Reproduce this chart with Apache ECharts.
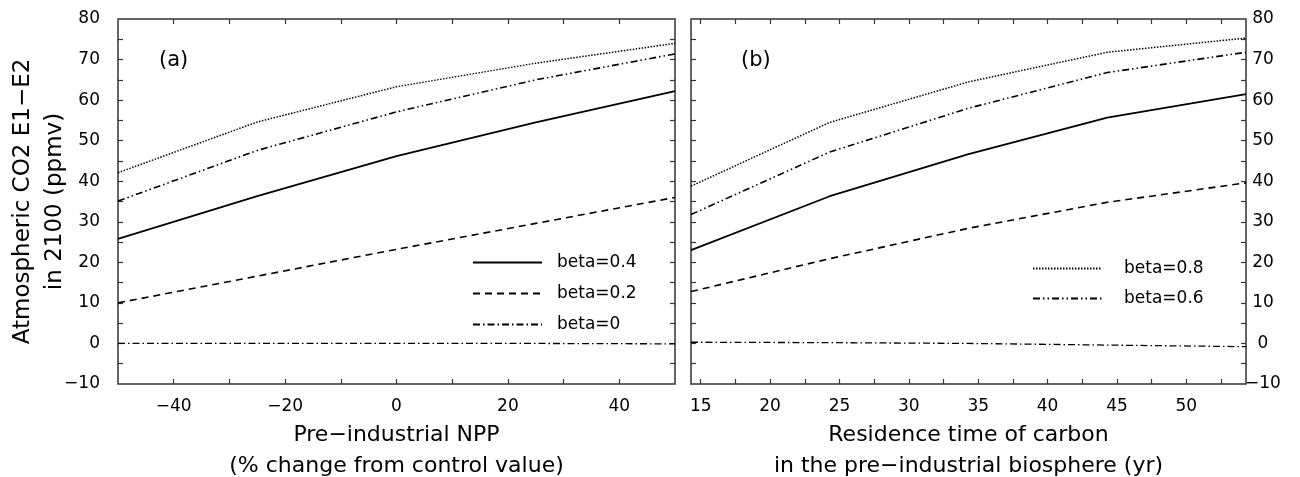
<!DOCTYPE html>
<html>
<head>
<meta charset="utf-8">
<script src="https://cdn.jsdelivr.net/npm/echarts@6/dist/echarts.min.js"></script>
<style>
html, body { margin: 0; background: #fff; }
#chart { width: 1300px; height: 477px; }
</style>
</head>
<body>
<div id="chart"></div>
<script>
// panel (a): pre-industrial NPP, panel (b): residence time
const nppX = [-50, -25, 0, 25, 50]
const residX = [14.3, 24.3, 34.3, 44.3, 54.3]

const nppBeta08 = [42.1, 54.6, 63.3, 69.1, 74.0]
const nppBeta06 = [35.1, 47.6, 57.1, 65.0, 71.4]
const nppBeta04 = [25.8, 36.3, 46.2, 54.5, 62.2]
const nppBeta02 = [10.0, 16.6, 23.2, 29.6, 36.0]
const nppBeta00 = [0, 0, 0, 0, -0.1]

const resBeta08 = [38.8, 54.5, 64.5, 71.8, 75.3]
const resBeta06 = [31.8, 47.2, 58.0, 66.8, 71.8]
const resBeta04 = [23.0, 36.3, 46.7, 55.7, 61.5]
const resBeta02 = [12.8, 20.9, 28.4, 34.8, 39.6]
const resBeta00 = [0.3, 0.2, 0.0, -0.4, -0.8]

const nppLabels = [-40, -20, 0, 20, 40]
const nppTicks = [-40, -30, -20, -10, 0, 10, 20, 30, 40]
const resLabels = [15, 20, 25, 30, 35, 40, 45, 50]
const resTicks = [15, 17.5, 20, 22.5, 25, 27.5, 30, 32.5, 35, 37.5, 40, 42.5, 45, 47.5, 50, 52.5]
const yLabels = [-10, 0, 10, 20, 30, 40, 50, 60, 70, 80]
const yTicks = [-5, 0, 5, 10, 15, 20, 25, 30, 35, 40, 45, 50, 55, 60, 65, 70, 75]

const font = '"DejaVu Sans", "Liberation Sans", Arial, sans-serif'
const minus = v => String(v).replace('-', '\u2212')

const styles = {
  'beta=0.8': { type: [1.5, 1.5], width: 1.5 },
  'beta=0.6': { type: [7, 3, 1.5, 3, 1.5, 3], width: 1.6 },
  'beta=0.4': { type: 'solid', width: 1.8 },
  'beta=0.2': { type: [7, 5], width: 1.6 },
  'beta=0': { type: [7, 3, 1.5, 3], width: 1.3 },
}

function line(name, xs, ys, idx) {
  return {
    type: 'line',
    name: name,
    xAxisIndex: idx,
    yAxisIndex: idx,
    symbol: 'none',
    symbolSize: 0,
    showSymbol: false,
    silent: true,
    animation: false,
    lineStyle: Object.assign({ color: '#000' }, styles[name]),
    itemStyle: { color: '#000' },
    data: xs.map((x, i) => [x, ys[i]]),
  }
}

function xAxis(grid, pos, min, max, labels, ticks, name) {
  return {
    type: 'value',
    gridIndex: grid,
    position: pos,
    min: min,
    max: max,
    name: name,
    nameLocation: 'middle',
    nameGap: 26,
    nameTextStyle: { color: '#000', fontSize: 22, fontFamily: font, lineHeight: 31 },
    axisLine: { show: false, onZero: false },
    splitLine: { show: false },
    axisTick: { show: true, inside: true, length: 5, customValues: ticks, lineStyle: { color: '#333', width: 1.2 } },
    axisLabel: { show: pos === 'bottom', customValues: labels, formatter: minus, color: '#000', fontSize: 17, fontFamily: font, margin: 14 },
  }
}

function yAxis(grid, pos, showLabel, name) {
  return {
    type: 'value',
    gridIndex: grid,
    position: pos,
    min: -10,
    max: 80,
    interval: 10,
    name: name,
    nameLocation: 'middle',
    nameGap: 47,
    nameMoveOverlap: false,
    nameTextStyle: { color: '#000', fontSize: 23, fontFamily: font, lineHeight: 32 },
    axisLine: { show: false, onZero: false },
    splitLine: { show: false },
    axisTick: { show: true, inside: true, length: 5, customValues: yTicks, lineStyle: { color: '#333', width: 1.2 } },
    axisLabel: {
      show: showLabel, customValues: yLabels, formatter: minus, color: '#000', fontSize: 17, fontFamily: font,
      margin: grid === 0 ? 18 : 17, align: grid === 0 ? 'right' : 'center',
    },
  }
}

const legendText = { color: '#000', fontSize: 17, fontFamily: font, lineHeight: 17 }

const chart = echarts.init(document.getElementById('chart'))
chart.setOption({
  backgroundColor: '#fff',
  animation: false,
  title: [
    { text: '(a)', left: 159, top: 50, padding: 0, textStyle: { fontSize: 21, fontWeight: 'normal', color: '#000', fontFamily: font } },
    { text: '(b)', left: 741, top: 50, padding: 0, textStyle: { fontSize: 21, fontWeight: 'normal', color: '#000', fontFamily: font } },
  ],
  grid: [
    { left: 118, top: 19, width: 557, height: 365, outerBoundsMode: 'none', show: true, borderColor: '#333', borderWidth: 1.5 },
    { left: 691, top: 19, width: 555, height: 365, outerBoundsMode: 'none', show: true, borderColor: '#333', borderWidth: 1.5 },
  ],
  legend: [
    {
      orient: 'vertical', left: 467, top: 249, itemWidth: 69, itemHeight: 14, itemGap: 14,
      selectedMode: false, data: ['beta=0.4', 'beta=0.2', 'beta=0'],
      itemStyle: { opacity: 0 },
      textStyle: Object.assign({ padding: [0, 0, 0, 10] }, legendText),
    },
    {
      orient: 'vertical', left: 1027, top: 255, itemWidth: 69, itemHeight: 14, itemGap: 13,
      selectedMode: false, data: ['beta=0.8', 'beta=0.6'],
      itemStyle: { opacity: 0 },
      textStyle: Object.assign({ padding: [0, 0, 0, 17] }, legendText),
    },
  ],
  xAxis: [
    xAxis(0, 'bottom', -50, 50, nppLabels, nppTicks, 'Pre\u2212industrial NPP\n(% change from control value)'),
    xAxis(1, 'bottom', 14.3, 54.3, resLabels, resTicks, 'Residence time of carbon\nin the pre\u2212industrial biosphere (yr)'),
    xAxis(0, 'top', -50, 50, nppLabels, nppTicks, ''),
    xAxis(1, 'top', 14.3, 54.3, resLabels, resTicks, ''),
  ],
  yAxis: [
    yAxis(0, 'left', true, 'Atmospheric CO2 E1\u2212E2\nin 2100 (ppmv)'),
    yAxis(1, 'right', true, ''),
    yAxis(0, 'right', false, ''),
    yAxis(1, 'left', false, ''),
  ],
  series: [
    line('beta=0.8', nppX, nppBeta08, 0),
    line('beta=0.6', nppX, nppBeta06, 0),
    line('beta=0.4', nppX, nppBeta04, 0),
    line('beta=0.2', nppX, nppBeta02, 0),
    line('beta=0', nppX, nppBeta00, 0),
    line('beta=0.8', residX, resBeta08, 1),
    line('beta=0.6', residX, resBeta06, 1),
    line('beta=0.4', residX, resBeta04, 1),
    line('beta=0.2', residX, resBeta02, 1),
    line('beta=0', residX, resBeta00, 1),
  ],
})
</script>
</body>
</html>
